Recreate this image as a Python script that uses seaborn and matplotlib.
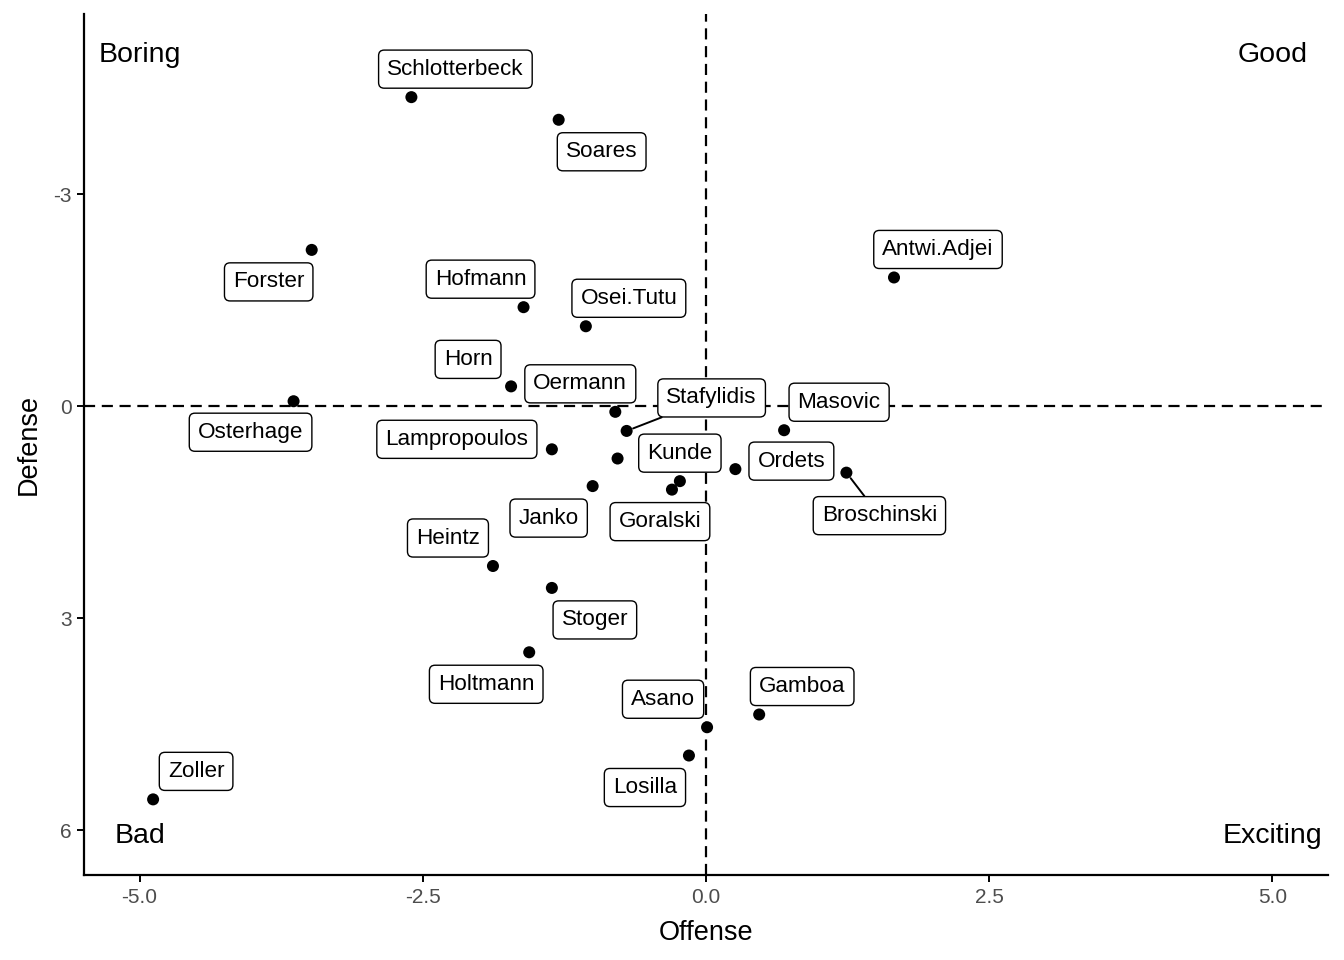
import numpy as np
import pandas as pd
import seaborn as sns
import matplotlib.pyplot as plt

# player scores
players = ["Schlotterbeck", "Soares", "Forster", "Antwi.Adjei", "Hofmann", "Osei.Tutu",
           "Horn", "Osterhage", "Oermann", "Stafylidis", "Masovic", "Lampropoulos",
           "", "Ordets", "Broschinski", "Kunde", "Goralski", "Janko", "Heintz",
           "Stoger", "Holtmann", "Gamboa", "Asano", "Losilla", "Zoller"]
offense = [-2.60, -1.30, -3.48, 1.66, -1.61, -1.06,
           -1.72, -3.64, -0.80, -0.70, 0.69, -1.36,
           -0.78, 0.26, 1.24, -0.23, -0.30, -1.00, -1.88,
           -1.36, -1.56, 0.47, 0.01, -0.15, -4.88]
defense = [-4.37, -4.05, -2.21, -1.82, -1.40, -1.13,
           -0.28, -0.07, 0.08, 0.35, 0.34, 0.61,
           0.74, 0.89, 0.94, 1.06, 1.18, 1.13, 2.26,
           2.57, 3.48, 4.36, 4.54, 4.94, 5.56]

corner_text = ["Boring", "Good", "Bad", "Exciting"]
corner_x = [-5, 5, -5, 5]
corner_y = [-4.96, -4.96, 6.08, 6.08]

# label offsets (pixels from the point, up positive) standing in for ggrepel
label_offset = {
    "Schlotterbeck": (44, 28), "Soares": (43, -32), "Forster": (-43, -32),
    "Antwi.Adjei": (44, 28), "Hofmann": (-43, 28), "Osei.Tutu": (43, 28),
    "Horn": (-43, 27), "Osterhage": (-43, -31), "Oermann": (-35, 28),
    "Stafylidis": (85, 33), "Masovic": (55, 28), "Lampropoulos": (-95, 10),
    "Ordets": (56, 8), "Broschinski": (33, -43), "Kunde": (0, 28),
    "Goralski": (-12, -32), "Janko": (-44, -32), "Heintz": (-45, 28),
    "Stoger": (43, -32), "Holtmann": (-43, -32), "Gamboa": (43, 28),
    "Asano": (-44, 28), "Losilla": (-44, -32), "Zoller": (43, 28),
}
with_segment = ["Stafylidis", "Broschinski"]

df = pd.DataFrame({"player": players, "Offense": offense, "Defense": defense})

sns.set_style("white")
plt.rcParams['font.family'] = ['Liberation Sans', 'DejaVu Sans']
plt.rcParams['axes.unicode_minus'] = False
plt.rcParams['text.color'] = 'black'
plt.rcParams['axes.labelcolor'] = 'black'

fig = plt.figure(figsize=(13.44, 9.6), dpi=100)
ax = fig.add_axes([0.0625, 0.0885, 0.9255, 0.8965])

ax.axvline(0, color="black", linestyle=(0, (5, 3)), linewidth=1.6, zorder=1)
ax.axhline(0, color="black", linestyle=(0, (5, 3)), linewidth=1.6, zorder=1)

sns.scatterplot(data=df, x="Offense", y="Defense", color="black", s=75,
                edgecolor="none", ax=ax, zorder=3)

for _, r in df.iterrows():
    if r["player"] == "":
        continue
    dx, dy = label_offset[r["player"]]
    arrow = dict(arrowstyle="-", color="black", lw=1.4, shrinkA=0, shrinkB=5) \
        if r["player"] in with_segment else None
    ax.annotate(r["player"], (r["Offense"], r["Defense"]), xytext=(dx, dy),
                textcoords="offset pixels", ha="center", va="center", fontsize=16.2,
                bbox=dict(boxstyle="round,pad=0.38,rounding_size=0.25", fc="white",
                          ec="black", lw=1),
                arrowprops=arrow, zorder=4)

for t, x, y in zip(corner_text, corner_x, corner_y):
    ax.text(x, y, t, ha="center", va="center", fontsize=20.5)

ax.set_xlim(-5.49, 5.49)
ax.set_ylim(6.63, -5.54)
ax.set_xticks([-5, -2.5, 0, 2.5, 5])
ax.set_xticklabels(["-5.0", "-2.5", "0.0", "2.5", "5.0"])
ax.set_yticks([-3, 0, 3, 6])
ax.set_yticklabels(["-3", "0", "3", "6"])

sns.despine(ax=ax)
for side in ["left", "bottom"]:
    ax.spines[side].set_color("black")
    ax.spines[side].set_linewidth(1.6)
ax.tick_params(axis="both", which="both", length=5, width=1.4, color="black",
               labelsize=15, labelcolor="#4D4D4D", direction="out", pad=4, left=True, bottom=True)
ax.set_xlabel("Offense", fontsize=19.5, labelpad=10)
ax.set_ylabel("Defense", fontsize=19.5, labelpad=8)

fig.savefig("out.png", dpi=100)
